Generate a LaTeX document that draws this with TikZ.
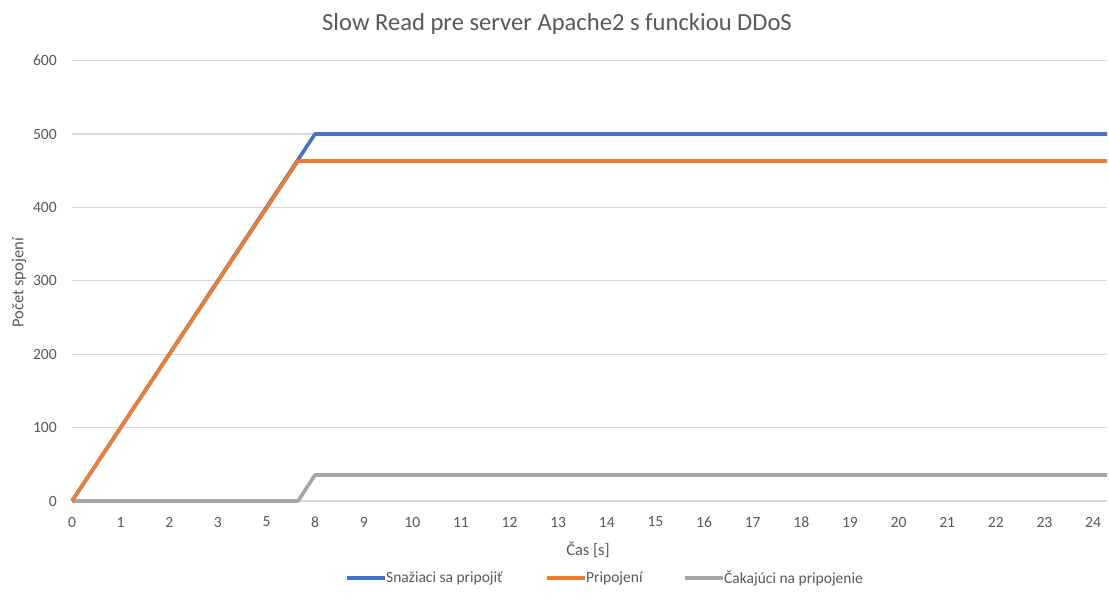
\documentclass[tikz,border=0pt]{standalone}
\usepackage{fontspec}
\setmainfont{Carlito}
\definecolor{sblue}{HTML}{4472C4}
\definecolor{sorange}{HTML}{ED7D31}
\definecolor{sgray}{HTML}{A5A5A5}
\definecolor{txt}{HTML}{595959}
\definecolor{gridc}{HTML}{D9D9D9}
\begin{document}
\begin{tikzpicture}[x=1pt,y=-1pt,
  gridline/.style={draw=gridc,line width=1.2pt},
  series/.style={line width=3.6pt,line join=round,line cap=butt},
  ticklbl/.style={text=txt,font=\fontsize{15.6}{18}\selectfont,inner sep=0pt},
  axtitle/.style={text=txt,font=\fontsize{16.5}{19}\selectfont,inner sep=0pt},
  leglbl/.style={text=txt,font=\fontsize{15.5}{18}\selectfont,inner sep=0pt,anchor=west}]
\useasboundingbox[fill=white] (0,0) rectangle (1109,598);
% grid
\foreach \v in {100,200,...,600}{
  \draw[gridline] (72,{501-0.734*\v}) -- (1107,{501-0.734*\v});
  \node[ticklbl,anchor=east] (y\v) at (57,{501-0.734*\v}) {\v};
}
\node[ticklbl,anchor=east] (y0) at (57,501) {0};
\draw[gridline] (72,501) -- (1107,501);
% x tick labels
\foreach \l [count=\i from 0] in {0,1,2,3,5,8,9,10,11,12,13,14,15,16,17,18,19,20,21,22,23,24}{
  \node[ticklbl] (x\i) at ({72+48.62*\i},522) {\l};
}
% titles
\node[text=txt,font=\fontsize{24.6}{29}\selectfont,inner sep=0pt] (title) at (557,24) {Slow Read pre server Apache2 s funckiou DDoS};
\node[axtitle,rotate=90] (ytitle) at (19,283) {Počet spojení};
\node[axtitle] (xtitle) at (588,550) {Čas [s]};
% series
\draw[series,sgray] (72,501) -- (298,501) -- (315,475) -- (1107,475);
\draw[series,sblue] (72,501) -- (315,134) -- (1107,134);
\draw[series,sorange] (72,501) -- (298,161) -- (1107,161);
% legend
\coordinate (lb1) at (347,578); \coordinate (lb2) at (385,578);
\coordinate (lo1) at (547,578); \coordinate (lo2) at (585,578);
\coordinate (lg1) at (685,578); \coordinate (lg2) at (723,578);
\draw[series,sblue] (lb1) -- (lb2);
\draw[series,sorange] (lo1) -- (lo2);
\draw[series,sgray] (lg1) -- (lg2);
\node[leglbl] (lbt) at (386,578) {Snažiaci sa pripojiť};
\node[leglbl] (lot) at (586,578) {Pripojení};
\node[leglbl] (lgt) at (724,578) {Čakajúci na pripojenie};
\end{tikzpicture}
\end{document}
